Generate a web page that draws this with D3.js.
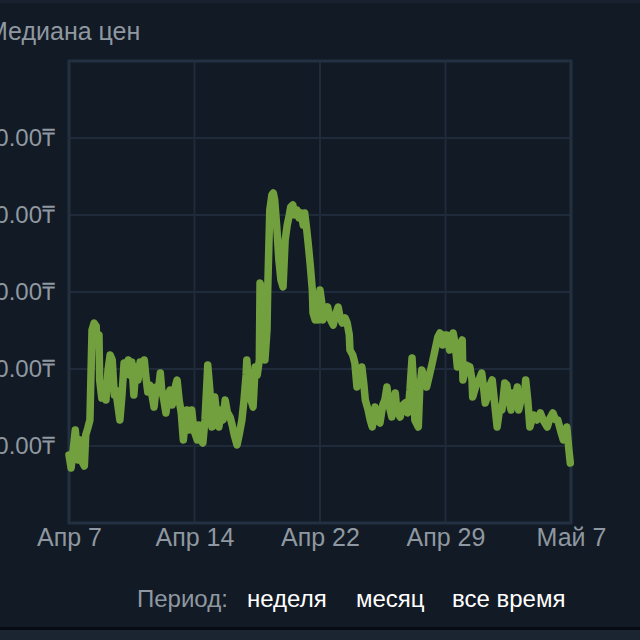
<!DOCTYPE html>
<html lang="ru">
<head>
  <meta charset="utf-8">
  <title>Медиана цен</title>
  <script src="https://d3js.org/d3.v7.min.js"></script>
  <style>
    html, body {
      margin: 0;
      padding: 0;
      background: #121a25;
      font-family: 'Liberation Sans', Arial, sans-serif;
    }
    svg { display: block; }
    .grid line { stroke: #1f2b3a; stroke-width: 2px; }
    .axis path, .axis line { display: none; }
    .axis text { fill: #8f98a0; font-family: 'Liberation Sans', Arial, sans-serif; }
    .price-line {
      fill: none;
      stroke: #72a03e;
      stroke-width: 7.5px;
      stroke-linejoin: round;
      stroke-linecap: round;
    }
  </style>
</head>
<body>
<div id="chart"></div>
<script>
  // hours since Apr 7 00:00, and median price at that hour
  var hours = [0, 3, 6, 9, 11, 13, 16, 19, 22, 24, 27, 30, 33, 36, 39, 40, 43, 44, 47, 50,
    53, 56, 59, 62, 65, 67, 70, 73, 76, 79, 82, 85, 87, 90, 93, 96, 99, 102, 105, 108,
    110, 113, 116, 119, 122, 125, 128, 131, 133, 136, 139, 142, 145, 148, 151, 153, 155, 158, 161, 164,
    166, 169, 172, 175, 176, 179, 184, 186, 189, 192, 195, 198, 199, 202, 205, 208, 209, 212, 215, 218,
    221, 224, 227, 231, 234, 237, 241, 244, 248, 251, 254, 255, 258, 261, 264, 267, 270, 273, 274, 277,
    280, 281, 284, 285, 288, 291, 293, 295, 298, 301, 304, 307, 310, 313, 316, 318, 321, 324, 327, 330,
    333, 336, 338, 341, 343, 346, 349, 350, 353, 356, 357, 360, 363, 364, 367, 371, 374, 379, 382, 386,
    389, 392, 396, 399, 402, 403, 407, 410, 413, 416, 420, 423, 425, 429, 432, 435, 439, 442, 446, 450,
    453, 456, 459, 463, 466, 468, 470, 475, 479, 482, 486, 489, 492, 495, 496, 501, 503, 506, 511, 513,
    518, 521, 525, 529, 532, 536, 539, 542, 546, 551, 554, 557, 559, 564, 565, 569, 575, 578, 579, 584,
    588, 592, 595, 597, 601, 604, 607, 610, 614, 618, 621, 625, 628, 631, 634, 637, 640, 643, 645, 650,
    653, 655, 658, 661, 666, 671, 676, 680, 686, 690, 694, 698, 701, 706, 709, 711, 714, 717, 719];

  var prices = [8.83, 7.14, 9.48, 12.08, 10.13, 8.18, 10.78, 7.92, 7.40, 11.43, 12.34, 13.38, 25.06, 25.97, 25.58, 23.12, 24.42, 18.57, 16.23, 17.92,
    15.97, 19.87, 21.82, 21.17, 16.62, 17.27, 15.32, 13.38, 16.62, 20.78, 19.87, 21.17, 19.22, 20.91, 16.62, 20.26, 18.57, 20.91, 19.61, 21.17,
    19.22, 17.01, 17.92, 16.62, 15.06, 17.66, 17.01, 19.48, 17.27, 15.97, 14.29, 16.62, 17.27, 15.32, 16.62, 17.92, 18.57, 15.97, 14.29, 10.78,
    12.73, 14.68, 12.08, 13.38, 14.68, 12.08, 10.78, 12.73, 10.78, 10.39, 13.38, 18.57, 20.52, 17.27, 12.47, 15.32, 16.36, 14.03, 12.47, 14.68,
    13.38, 15.97, 14.42, 13.77, 12.73, 11.43, 10.13, 11.43, 13.38, 15.97, 19.22, 21.17, 17.92, 15.97, 15.06, 20.26, 19.22, 21.17, 31.17, 30.26,
    25.06, 21.17, 25.06, 30.26, 40.65, 42.60, 42.86, 41.95, 38.44, 34.16, 31.56, 30.65, 36.75, 38.70, 40.00, 41.04, 41.30, 40.00, 40.65, 39.61,
    40.26, 38.70, 40.26, 38.05, 36.36, 33.51, 30.26, 27.27, 26.36, 28.31, 26.36, 30.26, 28.31, 26.36, 27.40, 28.05, 26.62, 25.71, 27.01, 28.05,
    26.62, 25.97, 26.62, 25.97, 24.42, 22.47, 21.82, 20.78, 17.66, 18.57, 20.26, 17.92, 15.97, 14.68, 13.38, 12.47, 15.06, 13.38, 12.99, 15.32,
    15.97, 17.66, 15.32, 13.77, 15.97, 16.88, 14.68, 13.77, 15.32, 15.58, 14.29, 17.27, 21.43, 16.62, 13.38, 12.47, 17.27, 19.87, 18.57, 17.66,
    19.61, 20.78, 22.47, 24.16, 24.68, 23.12, 24.42, 24.42, 22.47, 24.68, 23.12, 20.26, 22.47, 23.77, 18.57, 20.52, 20.26, 18.57, 16.36, 17.92,
    18.57, 19.48, 17.27, 15.58, 16.62, 17.92, 18.57, 15.97, 12.47, 15.06, 14.68, 18.18, 17.92, 15.97, 14.68, 16.88, 16.23, 17.66, 14.68, 16.62,
    16.23, 18.57, 15.97, 12.47, 14.03, 13.38, 14.29, 13.38, 12.47, 13.64, 14.29, 13.38, 13.38, 11.69, 10.78, 11.43, 12.47, 9.48, 7.79];

  var yTicks = [10, 20, 30, 40, 50];
  var yTickLabels = ["10.00₸", "20.00₸", "30.00₸", "40.00₸", "50.00₸"];
  var xTickLabels = ["Апр 7", "Апр 14", "Апр 22", "Апр 29", "Май 7"];
  var periodOptions = ["неделя", "месяц", "все время"];

  var W = 640, H = 640;
  var margin = {top: 61, right: 69, bottom: 117, left: 69};
  var width = W - margin.left - margin.right,
      height = H - margin.top - margin.bottom;

  var start = new Date(2024, 3, 7),
      end = new Date(2024, 4, 7);

  var data = hours.map(function (h, i) {
    return {date: new Date(start.getTime() + h * 3600e3), value: prices[i]};
  });

  var svg = d3.select("#chart").append("svg")
      .attr("width", W)
      .attr("height", H);

  // page bands at the top and bottom edges
  svg.append("rect").attr("x", 0).attr("y", 627).attr("width", W).attr("height", 3).attr("fill", "#080c12");
  svg.append("rect").attr("x", 0).attr("y", 630).attr("width", W).attr("height", 10).attr("fill", "#1b2431");
  svg.append("rect").attr("x", 0).attr("y", 0).attr("width", W).attr("height", 3).attr("fill", "#18212d");

  var g = svg.append("g")
      .attr("transform", "translate(" + margin.left + "," + margin.top + ")");

  var x = d3.scaleTime().domain([start, end]).range([0, width]);
  var y = d3.scaleLinear().domain([0, 60]).range([height, 0]);

  // five evenly spaced ticks over the month
  var xTicks = d3.range(5).map(function (i) {
    return new Date(start.getTime() + i * (end - start) / 4);
  });

  // grid
  g.append("g").attr("class", "grid")
      .selectAll("line.h").data(yTicks).enter().append("line")
      .attr("x1", 0).attr("x2", width)
      .attr("y1", function (d) { return y(d); })
      .attr("y2", function (d) { return y(d); });

  g.append("g").attr("class", "grid")
      .selectAll("line.v").data(xTicks.slice(1, 4)).enter().append("line")
      .attr("y1", 0).attr("y2", height)
      .attr("x1", function (d) { return x(d); })
      .attr("x2", function (d) { return x(d); });

  g.append("rect")
      .attr("width", width).attr("height", height)
      .attr("fill", "none")
      .attr("stroke", "#223042")
      .attr("stroke-width", 3);

  // line
  var line = d3.line()
      .x(function (d) { return x(d.date); })
      .y(function (d) { return y(d.value); });

  g.append("path")
      .datum(data)
      .attr("class", "price-line")
      .attr("d", line);

  // axes
  g.append("g").attr("class", "axis")
      .attr("transform", "translate(0," + height + ")")
      .call(d3.axisBottom(x).tickValues(xTicks).tickSize(0).tickPadding(5)
          .tickFormat(function (d, i) { return xTickLabels[i]; }))
      .selectAll("text").style("font-size", "25px");

  g.append("g").attr("class", "axis")
      .call(d3.axisLeft(y).tickValues(yTicks).tickSize(0).tickPadding(14)
          .tickFormat(function (d, i) { return yTickLabels[i]; }))
      .selectAll("text").style("font-size", "24px");

  // title
  svg.append("text")
      .attr("x", -13).attr("y", 40)
      .attr("fill", "#8f98a0")
      .style("font-size", "25px")
      .text("Медиана цен");

  // period selector
  svg.append("text")
      .attr("x", 137).attr("y", 607)
      .attr("fill", "#8f98a0")
      .style("font-size", "24px")
      .text("Период:");

  var optX = [247, 356, 452];
  svg.selectAll("text.opt").data(periodOptions).enter().append("text")
      .attr("class", "opt")
      .attr("x", function (d, i) { return optX[i]; })
      .attr("y", 607)
      .attr("fill", "#ffffff")
      .style("font-size", "24px")
      .text(function (d) { return d; });
</script>
</body>
</html>
